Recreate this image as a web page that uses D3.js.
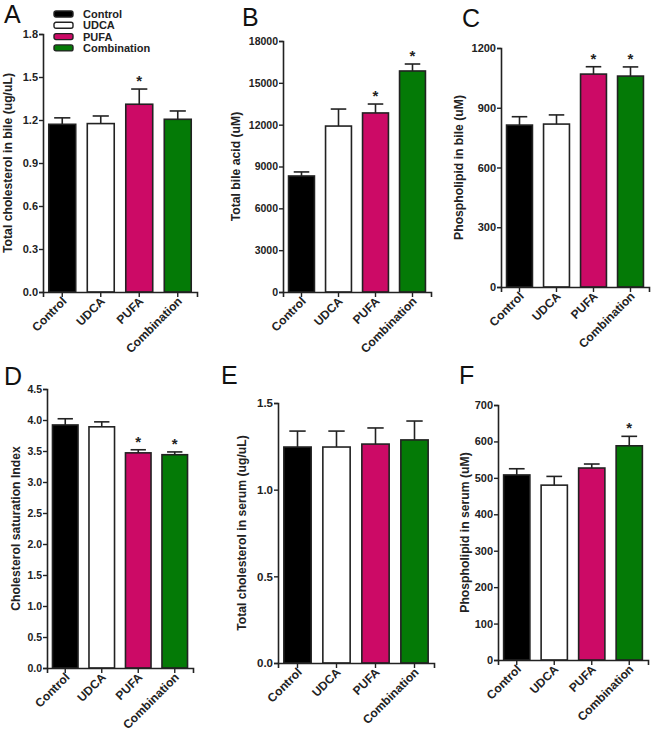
<!DOCTYPE html>
<html>
<head>
<meta charset="utf-8">
<script src="https://cdn.jsdelivr.net/npm/d3@7"></script>
<style>
  body { margin: 0; background: #fff; }
  text { font-family: 'Liberation Sans', Arial, sans-serif; }
</style>
</head>
<body>
<div id="chart"></div>
<script>
// data
const groups = ['Control', 'UDCA', 'PUFA', 'Combination'];
const groupColors = ['#000000', '#ffffff', '#cc0a66', '#047a06'];

const cholBileMean = [1.17, 1.175, 1.31, 1.205];
const cholBileErr = [0.045, 0.053, 0.106, 0.058];
const cholBileStar = [false, false, true, false];

const bileAcidMean = [8320, 11900, 12840, 15850];
const bileAcidErr = [290, 1220, 640, 500];
const bileAcidStar = [false, false, true, true];

const phosBileMean = [813, 818, 1069, 1059];
const phosBileErr = [42, 46, 37, 46];
const phosBileStar = [false, false, true, true];

const csiMean = [3.92, 3.89, 3.47, 3.44];
const csiErr = [0.1, 0.08, 0.05, 0.045];
const csiStar = [false, false, true, true];

const cholSerumMean = [1.246, 1.246, 1.263, 1.287];
const cholSerumErr = [0.092, 0.092, 0.093, 0.109];
const cholSerumStar = [false, false, false, false];

const phosSerumMean = [508, 480, 527, 588];
const phosSerumErr = [17, 24, 11, 26];
const phosSerumStar = [false, false, false, true];

const width = 654, height = 739;
const svg = d3.select('#chart').append('svg')
  .attr('width', width).attr('height', height);

// #region panels
const panels = [
  { letter: 'A', lx: 4, ly: 23, x0: 43, x1: 197, y0: 34, y1: 292, max: 1.8, step: 0.3, fmt: '.1f',
    label: 'Total cholesterol in bile (ug/uL)', labelX: 12, mean: cholBileMean, err: cholBileErr, star: cholBileStar, fs: 11 },
  { letter: 'B', lx: 242, ly: 26, x0: 283, x1: 431, y0: 41, y1: 292, max: 18000, step: 3000, fmt: 'd',
    label: 'Total bile acid (uM)', labelX: 240, mean: bileAcidMean, err: bileAcidErr, star: bileAcidStar, fs: 10.5 },
  { letter: 'C', lx: 462, ly: 27, x0: 501, x1: 649, y0: 48, y1: 287, max: 1200, step: 300, fmt: 'd',
    label: 'Phospholipid in bile (uM)', labelX: 463, mean: phosBileMean, err: phosBileErr, star: phosBileStar, fs: 11 },
  { letter: 'D', lx: 4, ly: 385, x0: 47, x1: 193, y0: 389, y1: 668, max: 4.5, step: 0.5, fmt: '.1f',
    label: 'Cholesterol saturation Index', labelX: 20, mean: csiMean, err: csiErr, star: csiStar, fs: 10.5 },
  { letter: 'E', lx: 221, ly: 384, x0: 278, x1: 434, y0: 403, y1: 663, max: 1.5, step: 0.5, fmt: '.1f',
    label: 'Total cholesterol in serum (ug/uL)', labelX: 246, mean: cholSerumMean, err: cholSerumErr, star: cholSerumStar, fs: 11.5 },
  { letter: 'F', lx: 459, ly: 384, x0: 498, x1: 648, y0: 405, y1: 660, max: 700, step: 100, fmt: 'd',
    label: 'Phospholipid in serum (uM)', labelX: 469, mean: phosSerumMean, err: phosSerumErr, star: phosSerumStar, fs: 11 },
];

panels.forEach(p => {
  const g = svg.append('g');

  const x = d3.scaleBand().domain(groups).range([p.x0, p.x1])
    .paddingInner(0.3).paddingOuter(0.15);
  const y = d3.scaleLinear().domain([0, p.max]).range([p.y1, p.y0]);

  g.append('text')
    .attr('x', p.lx).attr('y', p.ly)
    .style('font-size', '25px')
    .style('fill', '#111')
    .text(p.letter);

  const rows = groups.map((name, i) => ({ name, i, v: p.mean[i], e: p.err[i], s: p.star[i] }));

  // bars
  g.selectAll('rect.bar').data(rows).enter().append('rect')
    .attr('class', 'bar')
    .attr('x', d => x(d.name))
    .attr('y', d => y(d.v))
    .attr('width', x.bandwidth())
    .attr('height', d => y(0) - y(d.v))
    .attr('fill', d => groupColors[d.i])
    .attr('stroke', '#222')
    .attr('stroke-width', 1.6);

  // error bars (upper only)
  const capW = x.bandwidth() * 0.6;
  const eb = g.selectAll('g.err').data(rows).enter().append('g').attr('class', 'err')
    .attr('stroke', '#222').attr('stroke-width', 1.6);
  eb.append('line')
    .attr('x1', d => x(d.name) + x.bandwidth() / 2)
    .attr('x2', d => x(d.name) + x.bandwidth() / 2)
    .attr('y1', d => y(d.v))
    .attr('y2', d => y(d.v + d.e));
  eb.append('line')
    .attr('x1', d => x(d.name) + x.bandwidth() / 2 - capW / 2)
    .attr('x2', d => x(d.name) + x.bandwidth() / 2 + capW / 2)
    .attr('y1', d => y(d.v + d.e))
    .attr('y2', d => y(d.v + d.e));

  // stars
  g.selectAll('text.star').data(rows.filter(d => d.s)).enter().append('text')
    .attr('class', 'star')
    .attr('x', d => x(d.name) + x.bandwidth() / 2)
    .attr('y', d => y(d.v + d.e) - 3)
    .attr('text-anchor', 'middle')
    .style('font-size', '15px')
    .style('font-weight', 'bold')
    .style('fill', '#222')
    .text('*');

  // y axis
  const yAxis = d3.axisLeft(y)
    .tickValues(d3.range(0, p.max + p.step / 2, p.step))
    .tickFormat(d3.format(p.fmt))
    .tickSizeOuter(0)
    .tickSize(4);
  const ya = g.append('g').attr('transform', `translate(${p.x0},0)`).call(yAxis);
  ya.select('.domain').attr('stroke', '#222').attr('stroke-width', 1.6);
  ya.selectAll('.tick line').attr('stroke', '#222').attr('stroke-width', 1.4);
  ya.selectAll('.tick text')
    .attr('x', -5)
    .style('font-size', p.fs + 'px')
    .style('font-weight', 'bold')
    .style('font-family', "'Liberation Sans', Arial, sans-serif")
    .style('fill', '#222');

  // x axis
  const xAxis = d3.axisBottom(x).tickSizeOuter(0).tickSize(5);
  const xa = g.append('g').attr('transform', `translate(0,${p.y1})`).call(xAxis);
  xa.select('.domain').attr('stroke', '#222').attr('stroke-width', 1.6);
  xa.selectAll('.tick line').attr('stroke', '#222').attr('stroke-width', 1.4);
  xa.selectAll('.tick text')
    .attr('text-anchor', 'end')
    .attr('dx', 0).attr('dy', 0)
    .attr('transform', 'translate(5,10) rotate(-45)')
    .attr('y', 0).attr('x', 0)
    .style('font-size', '12px')
    .style('font-weight', 'bold')
    .style('font-family', "'Liberation Sans', Arial, sans-serif")
    .style('fill', '#222');

  // y label
  g.append('text')
    .attr('transform', `translate(${p.labelX},${(p.y0 + p.y1) / 2}) rotate(-90)`)
    .attr('text-anchor', 'middle')
    .style('font-size', '12.2px')
    .style('font-weight', 'bold')
    .style('fill', '#222')
    .text(p.label);
});
// #endregion

// #region legend
const legend = svg.append('g').attr('transform', 'translate(54,11)');
const lg = legend.selectAll('g').data(groups).enter().append('g')
  .attr('transform', (d, i) => `translate(0,${i * 11.3})`);
lg.append('rect')
  .attr('width', 19).attr('height', 6).attr('rx', 2)
  .attr('fill', (d, i) => groupColors[i])
  .attr('stroke', '#222').attr('stroke-width', 1.4);
lg.append('text')
  .attr('x', 29).attr('y', 7)
  .style('font-size', '11px')
  .style('font-weight', 'bold')
  .style('fill', '#222')
  .text(d => d);
// #endregion
</script>
</body>
</html>
